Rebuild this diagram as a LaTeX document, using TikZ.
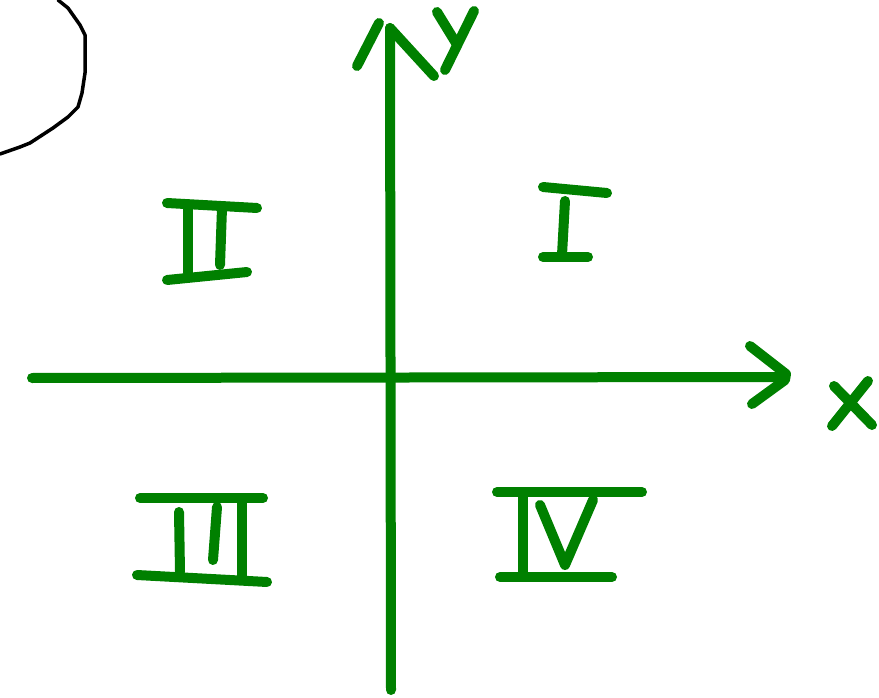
\documentclass[tikz,border=0pt]{standalone}
\definecolor{pen}{RGB}{0,128,0}
\begin{document}
\begin{tikzpicture}[x=1pt,y=-1pt,
  stroke/.style={draw=pen,line width=10pt,line cap=round,line join=round},
  ink/.style={draw=black,line width=3.5pt,line cap=round,line join=round}]
\useasboundingbox (0,0) rectangle (879,698);
% black curve
\draw[ink] (58,0) -- (68,8) -- (80,25) -- (85,35) -- (85,73) -- (82,93) -- (78,107) -- (68,117) -- (53,128) -- (30,143) -- (20,147) -- (0,154);
% y axis
\draw[stroke] (391,690) -- (390,28);
\draw[stroke] (390,28) -- (434,76);
\draw[stroke] (357,66) -- (379,23);
% letter y
\draw[stroke] (437,12) -- (456,43);
\draw[stroke] (474,11) -- (445,70);
% x axis
\draw[stroke] (32,378) -- (785,377);
\draw[stroke] (750,346) -- (786,374) -- (785,380) -- (752,404);
% letter x
\draw[stroke] (834,386) -- (872,425);
\draw[stroke] (868,381) -- (832,426);
% I
\draw[stroke] (543,187) -- (607,193);
\draw[stroke] (565,201) -- (562,255);
\draw[stroke] (543,257) -- (588,257);
% II
\draw[stroke] (167,203) -- (257,208);
\draw[stroke] (188,207) -- (188,273);
\draw[stroke] (222,208) -- (220,265);
\draw[stroke] (167,280) -- (247,272);
% III
\draw[stroke] (140,498) -- (263,498);
\draw[stroke] (179,512) -- (180,572);
\draw[stroke] (217,507) -- (213,560);
\draw[stroke] (242,500) -- (242,578);
\draw[stroke] (137,575) -- (267,582);
% IV
\draw[stroke] (497,492) -- (642,492);
\draw[stroke] (523,497) -- (523,573);
\draw[stroke] (540,505) -- (565,565) -- (593,500);
\draw[stroke] (500,577) -- (612,577);
\end{tikzpicture}
\end{document}
